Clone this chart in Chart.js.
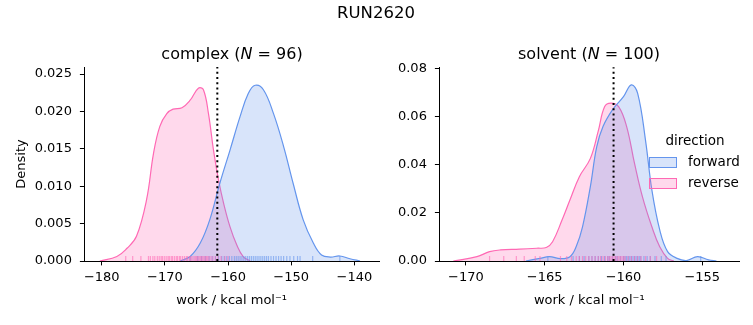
<!DOCTYPE html>
<html>
<head>
<meta charset="utf-8">
<script src="https://cdn.jsdelivr.net/npm/chart.js"></script>
<style>
  body { margin: 0; background: #fff; font-family: "DejaVu Sans", sans-serif; }
  #fig { position: relative; width: 753px; height: 325px; overflow: hidden; }
  .panel { position: absolute; top: 0; }
  .title { position: absolute; font-size: 16px; line-height: 18px; color: #000; white-space: nowrap; transform: translateX(-50%); }
</style>
</head>
<body>
<div id="fig">
  <canvas id="complexChart" class="panel" style="left:0" width="390" height="325"></canvas>
  <canvas id="solventChart" class="panel" style="left:390px" width="363" height="325"></canvas>
  <div class="title" style="left:376px; top:4px; font-size:16.5px;">RUN2620</div>
  <div class="title" style="left:232px; top:45px;">complex (<i>N</i> = 96)</div>
  <div class="title" style="left:589px; top:45px;">solvent (<i>N</i> = 100)</div>
</div>
<script>
// ---- data ----
const directions = ['forward', 'reverse'];

// complex leg, KDE curves (work, density)
const complexFwdWork = [-167.6, -166.0, -164.4, -162.9, -161.3, -159.7, -158.1, -156.8, -155.7, -154.4, -152.8, -151.2, -149.7, -148.1, -146.5, -145.2, -143.8, -142.3, -140.7, -139.1];
const complexFwdDensity = [0, 0.0006, 0.0024, 0.0055, 0.0104, 0.0148, 0.0193, 0.0224, 0.0235, 0.0229, 0.0197, 0.0153, 0.0104, 0.0055, 0.0024, 0.0008, 0.00053, 0.00067, 0.0003, 0];
const complexRevWork = [-180.3, -177.6, -176.0, -174.5, -172.9, -171.8, -170.8, -169.7, -168.7, -167.3, -166.0, -164.7, -163.9, -163.1, -162.3, -161.5, -160.7, -159.7, -158.6, -157.6, -156.5];
const complexRevDensity = [0, 0.0006, 0.0017, 0.0033, 0.0082, 0.0144, 0.018, 0.0197, 0.0203, 0.0205, 0.0215, 0.0231, 0.0229, 0.0197, 0.0148, 0.0108, 0.0077, 0.0046, 0.0021, 0.0006, 0];

// complex leg, rug samples
const complexFwdRug = [-166.0, -164.8, -164.2, -163.6, -163.0, -162.5, -162.0, -161.5, -161.0, -160.6, -160.2, -159.8, -159.4, -159.0, -158.7, -158.4, -158.1, -157.8, -157.5, -157.2, -156.9, -156.6, -156.3, -156.0, -155.7, -155.4, -155.1, -154.8, -154.5, -154.2, -153.9, -153.6, -153.2, -152.8, -152.4, -152.0, -151.6, -151.2, -150.7, -150.2, -149.6, -149.0, -148.6, -146.6, -142.3];
const complexRevRug = [-176.2, -175.1, -173.8, -172.6, -172.3, -171.9, -171.6, -171.2, -170.9, -170.6, -170.4, -170.1, -169.8, -169.5, -169.3, -169.0, -168.8, -168.5, -168.2, -168.0, -167.7, -167.5, -167.2, -166.9, -166.6, -166.4, -166.1, -165.9, -165.7, -165.4, -165.2, -165.0, -164.8, -164.6, -164.4, -164.2, -164.0, -163.8, -163.6, -163.4, -163.2, -163.0, -162.7, -162.4, -162.0, -161.6, -161.1, -160.5, -160.0];
const complexMid = -161.7;

// solvent leg, KDE curves
const solventFwdWork = [-166.2, -165.3, -164.7, -164.0, -163.4, -163.0, -162.6, -162.1, -161.7, -161.3, -160.7, -160.0, -159.5, -159.1, -158.6, -158.2, -157.7, -157.2, -156.6, -156.0, -155.3, -154.6, -154.1];
const solventFwdDensity = [0, 0.0011, 0.0018, 0.001, 0.0018, 0.006, 0.0142, 0.031, 0.0474, 0.0558, 0.0627, 0.0682, 0.0731, 0.0696, 0.05, 0.0295, 0.0129, 0.0039, 0.0011, 0.0002, 0.0018, 0.0005, 0];
const solventRevWork = [-170.8, -169.3, -168.5, -167.8, -166.6, -165.5, -164.9, -164.5, -163.9, -163.4, -162.8, -162.1, -161.6, -161.2, -160.8, -160.3, -159.8, -159.3, -158.8, -158.2, -157.7, -157.2, -156.8];
const solventRevDensity = [0, 0.0018, 0.0039, 0.0046, 0.0049, 0.0053, 0.0056, 0.008, 0.017, 0.0253, 0.035, 0.0426, 0.054, 0.064, 0.0655, 0.064, 0.0558, 0.0405, 0.0267, 0.0142, 0.0059, 0.0011, 0];

// solvent leg, rug samples
const solventFwdRug = [-164.8, -163.2, -162.8, -162.5, -162.2, -162.0, -161.8, -161.6, -161.4, -161.2, -161.0, -160.9, -160.7, -160.5, -160.4, -160.2, -160.0, -159.9, -159.8, -159.7, -159.6, -159.5, -159.4, -159.3, -159.2, -159.1, -159.0, -158.9, -158.7, -158.5, -158.3, -158.0, -157.6, -157.3, -155.1];
const solventRevRug = [-168.5, -167.6, -166.8, -166.3, -165.6, -165.3, -164.0, -163.6, -163.3, -163.0, -162.8, -162.6, -162.4, -162.2, -162.0, -161.8, -161.6, -161.45, -161.3, -161.15, -161.0, -160.9, -160.8, -160.7, -160.6, -160.5, -160.4, -160.3, -160.2, -160.1, -160.0, -159.9, -159.7, -159.5, -159.3, -159.1, -158.9, -158.6, -158.3, -157.9];
const solventMid = -160.63;

// axis ticks
const complexXTicks = [-180, -170, -160, -150, -140];
const complexYTicks = [0, 0.005, 0.01, 0.015, 0.02, 0.025];
const solventXTicks = [-170, -165, -160, -155];
const solventYTicks = [0, 0.02, 0.04, 0.06, 0.08];

// ---- styling ----
const FWD = 'rgb(100, 149, 237)';
const REV = 'rgb(255, 105, 180)';
const FWD_FILL = 'rgba(100, 149, 237, 0.25)';
const REV_FILL = 'rgba(255, 105, 180, 0.25)';
const FONT = '"DejaVu Sans", sans-serif';
const TICK_SIZE = 13;

Chart.defaults.color = '#000';
Chart.defaults.font.family = FONT;
Chart.defaults.font.size = TICK_SIZE;

function pts(xs, ys) {
    return xs.map((x, i) => ({ x: x, y: ys[i] }));
}

function minus(v) {
    return v < 0 ? '\u2212' + Math.abs(v) : String(v);
}

// rug ticks along the bottom of the axes
const rugPlugin = {
    id: 'rug',
    afterDatasetsDraw(chart, args, opts) {
        const { ctx, chartArea } = chart;
        const x = chart.scales.x;
        ctx.save();
        ctx.lineWidth = 1.2;
        opts.sets.forEach(s => {
            ctx.strokeStyle = s.color;
            s.values.forEach(v => {
                const px = x.getPixelForValue(v);
                ctx.beginPath();
                ctx.moveTo(px, chartArea.bottom);
                ctx.lineTo(px, chartArea.bottom - 5);
                ctx.stroke();
            });
        });
        ctx.restore();
    }
};

// dotted vertical marker
const midLinePlugin = {
    id: 'midLine',
    afterDatasetsDraw(chart, args, opts) {
        const { ctx, chartArea } = chart;
        const px = chart.scales.x.getPixelForValue(opts.value);
        ctx.save();
        ctx.strokeStyle = '#000';
        ctx.lineWidth = 2;
        ctx.setLineDash([2, 3.2]);
        ctx.beginPath();
        ctx.moveTo(px, chartArea.bottom);
        ctx.lineTo(px, chartArea.top);
        ctx.stroke();
        ctx.restore();
    }
};

// hue legend drawn to the right of the solvent panel
const hueLegendPlugin = {
    id: 'hueLegend',
    afterDraw(chart, args, opts) {
        if (!opts.show) return;
        const ctx = chart.ctx;
        ctx.save();
        ctx.font = '13.5px ' + FONT;
        ctx.fillStyle = '#000';
        ctx.textBaseline = 'middle';
        ctx.textAlign = 'center';
        ctx.fillText('direction', 305, 141);
        const rows = [
            { label: directions[0], fill: FWD_FILL, line: FWD, y: 157 },
            { label: directions[1], fill: REV_FILL, line: REV, y: 178 }
        ];
        ctx.textAlign = 'left';
        rows.forEach(r => {
            ctx.fillStyle = r.fill;
            ctx.fillRect(259.5, r.y + 0.5, 27, 10);
            ctx.strokeStyle = r.line;
            ctx.lineWidth = 1;
            ctx.strokeRect(259.5, r.y + 0.5, 27, 10);
            ctx.fillStyle = '#000';
            ctx.fillText(r.label, 298, r.y + 5);
        });
        ctx.restore();
    }
};

function makePanel(id, cfg) {
    const datasets = [
        {
            label: directions[0],
            data: pts(cfg.fwdWork, cfg.fwdDensity),
            borderColor: FWD,
            backgroundColor: FWD_FILL,
            fill: 'origin'
        },
        {
            label: directions[1],
            data: pts(cfg.revWork, cfg.revDensity),
            borderColor: REV,
            backgroundColor: REV_FILL,
            fill: 'origin'
        }
    ];
    return new Chart(document.getElementById(id), {
        type: 'line',
        data: { datasets: datasets },
        options: {
            responsive: false,
            animation: false,
            events: [],
            layout: { padding: { left: 0, top: cfg.top, right: cfg.padRight, bottom: 0 } },
            elements: {
                line: { borderWidth: 1.2, tension: 0.4 },
                point: { radius: 0 }
            },
            plugins: {
                legend: { display: false },
                tooltip: { enabled: false },
                rug: {
                    sets: [
                        { values: cfg.fwdRug, color: 'rgba(100, 149, 237, 0.6)' },
                        { values: cfg.revRug, color: 'rgba(255, 105, 180, 0.6)' }
                    ]
                },
                midLine: { value: cfg.mid },
                hueLegend: { show: cfg.legend }
            },
            scales: {
                x: {
                    type: 'linear',
                    min: cfg.xMin,
                    max: cfg.xMax,
                    afterFit: s => { s.height = 64; },
                    afterBuildTicks: s => { s.ticks = cfg.xTicks.map(v => ({ value: v })); },
                    ticks: { callback: v => minus(v), padding: 4, maxRotation: 0 },
                    grid: { drawOnChartArea: false, tickLength: 4.4, color: '#000' },
                    border: { color: '#000', width: 1 },
                    title: {
                        display: true,
                        text: 'work / kcal mol\u207B\u00B9',
                        font: { size: TICK_SIZE },
                        padding: { top: 0, bottom: 16.7 }
                    }
                },
                y: {
                    min: 0,
                    max: cfg.yMax,
                    afterFit: s => { s.width = cfg.yWidth; },
                    afterBuildTicks: s => { s.ticks = cfg.yTicks.map(v => ({ value: v })); },
                    ticks: { callback: v => v.toFixed(cfg.yDigits), padding: 8 },
                    grid: { drawOnChartArea: false, tickLength: 4.4, color: '#000' },
                    border: { color: '#000', width: 1 },
                    title: {
                        display: cfg.yTitle,
                        text: 'Density',
                        font: { size: TICK_SIZE },
                        padding: { top: 14, bottom: 0 }
                    }
                }
            }
        },
        plugins: [rugPlugin, midLinePlugin, hueLegendPlugin]
    });
}

makePanel('complexChart', {
    fwdWork: complexFwdWork, fwdDensity: complexFwdDensity,
    revWork: complexRevWork, revDensity: complexRevDensity,
    fwdRug: complexFwdRug, revRug: complexRevRug,
    mid: complexMid,
    xMin: -182.76, xMax: -136.1, yMax: 0.02594,
    xTicks: complexXTicks, yTicks: complexYTicks, yDigits: 3,
    top: 67, padRight: 11, yWidth: 84.3, yTitle: true, legend: false
});

makePanel('solventChart', {
    fwdWork: solventFwdWork, fwdDensity: solventFwdDensity,
    revWork: solventRevWork, revDensity: solventRevDensity,
    fwdRug: solventFwdRug, revRug: solventRevRug,
    mid: solventMid,
    xMin: -171.69, xMax: -152.65, yMax: 0.0804,
    xTicks: solventXTicks, yTicks: solventYTicks, yDigits: 2,
    top: 67.3, padRight: 13.7, yWidth: 49.3, yTitle: false, legend: true
});
</script>
</body>
</html>
